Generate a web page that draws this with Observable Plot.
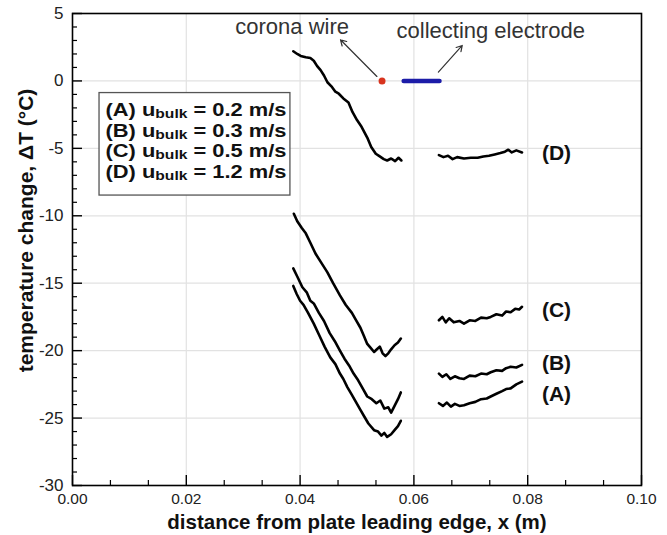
<!DOCTYPE html>
<html>
<head>
<meta charset="utf-8">
<script src="https://cdn.jsdelivr.net/npm/d3@7"></script>
<script src="https://cdn.jsdelivr.net/npm/@observablehq/plot@0.6"></script>
<style>
  html, body { margin: 0; padding: 0; background: #fff; }
  #chart { width: 667px; height: 535px; }
  svg text { font-family: "Liberation Sans", Arial, Helvetica, sans-serif; }
</style>
</head>
<body>
<div id="chart"></div>
<script>
// ---- tick values ----
const xMajorTicks = [0, 0.02, 0.04, 0.06, 0.08, 0.10];
const yMajorTicks = [-30, -25, -20, -15, -10, -5, 0, 5];

// ---- series data: [x (m), ΔT (°C)] ----
// (A) u_bulk = 0.2 m/s
const curveA1 = [[0.0388,-15.2],[0.0394,-15.8],[0.0400,-16.3],[0.0406,-16.6],[0.0414,-17.2],[0.0424,-18.0],[0.0433,-18.8],[0.0443,-19.7],[0.0453,-20.5],[0.0462,-21.0],[0.0470,-21.7],[0.0476,-22.1],[0.0483,-22.7],[0.0490,-23.2],[0.0498,-23.8],[0.0506,-24.4],[0.0513,-24.9],[0.0520,-25.4],[0.0530,-25.9],[0.0537,-26.0],[0.0543,-26.3],[0.0548,-26.1],[0.0553,-26.4],[0.0560,-26.2],[0.0566,-25.9],[0.0572,-25.6],[0.0577,-25.2]];
const curveA2 = [[0.0644,-23.9],[0.0651,-24.1],[0.0658,-23.85],[0.0665,-24.15],[0.0672,-23.95],[0.0680,-24.1],[0.0688,-24.05],[0.0698,-23.9],[0.0708,-23.8],[0.0718,-23.6],[0.0728,-23.55],[0.0735,-23.4],[0.0745,-23.2],[0.0755,-23.0],[0.0762,-22.85],[0.0770,-22.8],[0.0780,-22.5],[0.0790,-22.3]];
// (B) u_bulk = 0.3 m/s
const curveB1 = [[0.0388,-13.9],[0.0395,-14.5],[0.0404,-15.3],[0.0412,-15.7],[0.0418,-16.3],[0.0424,-16.5],[0.0433,-17.2],[0.0442,-17.8],[0.0452,-18.7],[0.0461,-19.3],[0.0470,-20.0],[0.0478,-20.6],[0.0486,-21.1],[0.0494,-21.7],[0.0502,-22.2],[0.0510,-22.8],[0.0518,-23.4],[0.0526,-23.6],[0.0534,-23.9],[0.0541,-23.7],[0.0548,-24.3],[0.0555,-24.2],[0.0560,-24.6],[0.0566,-24.1],[0.0572,-23.6],[0.0577,-23.1]];
const curveB2 = [[0.0644,-21.7],[0.0650,-21.95],[0.0657,-21.75],[0.0664,-22.1],[0.0672,-21.9],[0.0680,-22.05],[0.0688,-22.1],[0.0698,-21.85],[0.0708,-21.9],[0.0718,-21.7],[0.0728,-21.75],[0.0735,-21.6],[0.0745,-21.45],[0.0755,-21.5],[0.0762,-21.3],[0.0770,-21.2],[0.0780,-21.25],[0.0790,-21.05]];
// (C) u_bulk = 0.5 m/s
const curveC1 = [[0.0389,-9.85],[0.0395,-10.4],[0.0403,-10.9],[0.0410,-11.3],[0.0418,-12.0],[0.0427,-12.8],[0.0436,-13.4],[0.0448,-14.2],[0.0458,-15.0],[0.0470,-15.9],[0.0480,-16.6],[0.0491,-17.2],[0.0499,-17.8],[0.0506,-18.3],[0.0512,-18.9],[0.0518,-19.5],[0.0524,-19.8],[0.0530,-20.1],[0.0535,-19.9],[0.0540,-19.7],[0.0545,-20.2],[0.0550,-20.4],[0.0555,-20.2],[0.0560,-19.9],[0.0566,-19.6],[0.0572,-19.4],[0.0577,-19.1]];
const curveC2 = [[0.0644,-17.75],[0.0650,-17.5],[0.0656,-17.9],[0.0662,-17.6],[0.0670,-17.9],[0.0680,-17.8],[0.0688,-18.0],[0.0698,-17.75],[0.0708,-17.8],[0.0718,-17.55],[0.0728,-17.6],[0.0735,-17.5],[0.0745,-17.3],[0.0755,-17.4],[0.0762,-17.1],[0.0770,-17.15],[0.0778,-16.9],[0.0785,-16.95],[0.0790,-16.75]];
// (D) u_bulk = 1.2 m/s
const curveD1 = [[0.0388,2.2],[0.0395,2.0],[0.0401,1.85],[0.0410,1.75],[0.0418,1.7],[0.0424,1.5],[0.0430,1.1],[0.0436,0.8],[0.0442,0.4],[0.0448,-0.1],[0.0455,-0.4],[0.0462,-0.8],[0.0468,-0.95],[0.0476,-1.3],[0.0485,-1.6],[0.0492,-2.3],[0.0500,-2.9],[0.0508,-3.4],[0.0518,-4.2],[0.0525,-4.9],[0.0533,-5.4],[0.0540,-5.6],[0.0547,-5.8],[0.0553,-5.9],[0.0560,-5.75],[0.0567,-5.95],[0.0573,-5.7],[0.0578,-5.9]];
const curveD2 = [[0.0644,-5.5],[0.0652,-5.65],[0.0660,-5.55],[0.0668,-5.8],[0.0676,-5.65],[0.0688,-5.75],[0.0700,-5.7],[0.0712,-5.7],[0.0722,-5.6],[0.0732,-5.55],[0.0742,-5.45],[0.0752,-5.35],[0.0760,-5.25],[0.0766,-5.1],[0.0772,-5.3],[0.0780,-5.15],[0.0790,-5.3]];

// ---- labels ----
const seriesNames = ["(A)", "(B)", "(C)", "(D)"];
const seriesLabelY = [-23.2, -20.9, -17.0, -5.37];
const bulkSpeeds = ["0.2 m/s", "0.3 m/s", "0.5 m/s", "1.2 m/s"];
const xTitle = "distance from plate leading edge, x (m)";
const yTitle = "temperature change, \u0394T (\u00B0C)";

// ---- build tables ----
const curves = [
  ["A1", curveA1], ["A2", curveA2], ["B1", curveB1], ["B2", curveB2],
  ["C1", curveC1], ["C2", curveC2], ["D1", curveD1], ["D2", curveD2]
];
const rows = curves.flatMap(([key, pts]) => pts.map(([x, y]) => ({key, x, y})));
const rightLabels = seriesNames.map((n, i) => ({text: n, x: 0.0825, y: seriesLabelY[i]}));
const legendRowsY = [-2.19, -3.71, -5.23, -6.75];
const legendRows = seriesNames.map((n, i) => ({text: `${n} u_bulk = ${bulkSpeeds[i]}`, x: 0.0058, y: legendRowsY[i]}));

const W = 667, H = 535, ML = 72, MR = 26, MT = 13, MB = 50;
const plotW = W - ML - MR, plotH = H - MT - MB;
const xMinor = d3.range(0, 0.1 + 1e-9, 0.02 / 3).filter(v => !xMajorTicks.some(m => Math.abs(m - v) < 1e-6));
const yMinor = d3.range(-30, 5.001, 1).filter(v => v % 5 !== 0);

const chart = Plot.plot({
  width: W, height: H,
  marginLeft: ML, marginRight: MR, marginTop: MT, marginBottom: MB,
  style: {fontFamily: "Liberation Sans, Arial, sans-serif", background: "#fff"},
  x: {domain: [0, 0.1]},
  y: {domain: [-30, 5]},
  marks: [
    Plot.gridX(xMajorTicks.slice(1, -1), {stroke: "#e2e2e2", strokeOpacity: 1, strokeWidth: 1.2}),
    Plot.gridY(yMajorTicks.slice(1, -1), {stroke: "#e2e2e2", strokeOpacity: 1, strokeWidth: 1.2}),
    Plot.tickX(xMinor, {x: d => d, insetTop: plotH - 5, stroke: "#000", strokeWidth: 1.2}),
    Plot.tickX(xMajorTicks, {x: d => d, insetTop: plotH - 10, stroke: "#000", strokeWidth: 1.4}),
    Plot.tickY(yMinor, {y: d => d, insetRight: plotW - 5, stroke: "#000", strokeWidth: 1.2}),
    Plot.tickY(yMajorTicks, {y: d => d, insetRight: plotW - 10, stroke: "#000", strokeWidth: 1.4}),
    Plot.axisX(xMajorTicks, {tickSize: 0, tickPadding: 7, fontSize: 15.5, fill: "#222", tickFormat: d3.format(".2f"), label: null}),
    Plot.axisY(yMajorTicks, {tickSize: 0, tickPadding: 9, fontSize: 17, fill: "#222", tickFormat: d => String(d), label: null}),
    Plot.frame({stroke: "#000", strokeWidth: 1.6}),
    // legend box
    Plot.rect([{x1: 0.00475, x2: 0.0383, y1: -0.9, y2: -8.5}], {x1: "x1", x2: "x2", y1: "y1", y2: "y2", fill: "#fff", stroke: "#555", strokeWidth: 1.3}),
    Plot.text(legendRows, {x: "x", y: "y", text: "text", textAnchor: "start", fontSize: 17.5, fontWeight: "bold", fill: "#111"}),
    // data lines
    Plot.line(rows, {x: "x", y: "y", z: "key", stroke: "#000", strokeWidth: 2.6, strokeLinejoin: "round"}),
    Plot.text(rightLabels, {x: "x", y: "y", text: "text", textAnchor: "start", fontSize: 21, fontWeight: "bold", fill: "#111"}),
    // electrodes
    Plot.line([{x: 0.0582, y: 0}, {x: 0.0645, y: 0}], {x: "x", y: "y", stroke: "#1c1ca8", strokeWidth: 4.5}),
    Plot.dot([{x: 0.0544, y: 0}], {x: "x", y: "y", r: 3.5, fill: "#d8341e", stroke: "none"}),
    Plot.arrow([{x1: 0.0535, y1: 0.33, x2: 0.0471, y2: 3.05}, {x1: 0.0643, y1: 0.65, x2: 0.0685, y2: 2.63}],
      {x1: "x1", y1: "y1", x2: "x2", y2: "y2", stroke: "#333", strokeWidth: 1.2, headLength: 8}),
    Plot.text([{t: "corona wire", x: 0.0386, y: 3.97}, {t: "collecting electrode", x: 0.0735, y: 3.74}],
      {x: "x", y: "y", text: "t", fontSize: 22, fill: "#333"}),
    // axis titles
    Plot.text([xTitle], {text: d => d, frameAnchor: "bottom", textAnchor: "middle", lineAnchor: "middle", dy: 37, fontSize: 20.5, fontWeight: "bold", fill: "#111"}),
    Plot.text([yTitle], {text: d => d, frameAnchor: "left", textAnchor: "middle", lineAnchor: "middle", dx: -46, dy: -19, rotate: -90, fontSize: 21, fontWeight: "bold", fill: "#111"})
  ]
});

// subscript "bulk" in the legend rows, stretched to the legend width
d3.select(chart).selectAll("text").each(function () {
  const s = this.textContent;
  const m = /^(\([A-D]\)) u_bulk = (.*)$/.exec(s);
  if (!m) return;
  const t = d3.select(this);
  t.text(null);
  t.append("tspan").text(m[1] + " u");
  t.append("tspan").attr("dy", "2").attr("font-size", "12.5").text("bulk");
  t.append("tspan").attr("dy", "-2").text(" = " + m[2]);
  t.attr("textLength", 181).attr("lengthAdjust", "spacingAndGlyphs");
});

document.getElementById("chart").appendChild(chart);
</script>
</body>
</html>
